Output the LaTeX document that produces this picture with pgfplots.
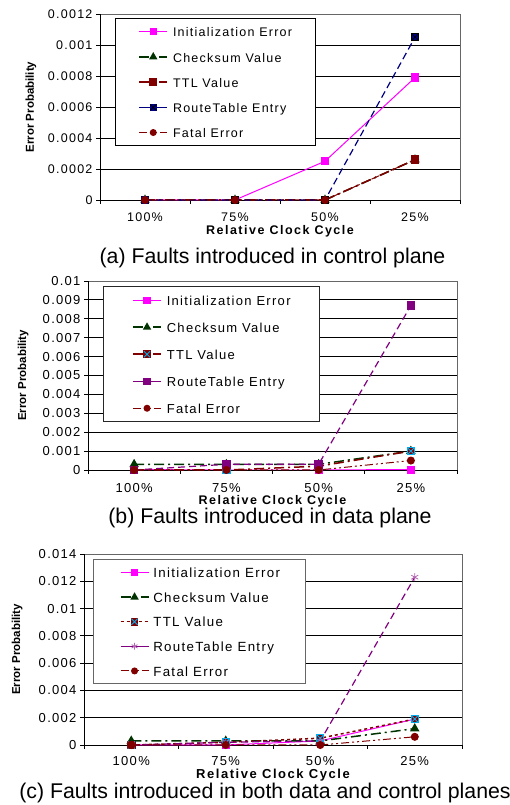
\documentclass[border=0pt]{standalone}
\usepackage{fontspec}
\setmainfont{Liberation Sans}
\newfontfamily\xlfont[LetterSpace=10]{Liberation Sans}
\newfontfamily\xlbfont[LetterSpace=12]{Liberation Sans}
\usepackage{pgfplots}
\pgfplotsset{compat=1.18}

\definecolor{initc}{HTML}{FF00FF}
\definecolor{chkc}{HTML}{003300}
\definecolor{ttlc}{HTML}{800000}
\definecolor{rtnavy}{HTML}{000080}
\definecolor{rtpurp}{HTML}{800080}
\definecolor{fatc}{HTML}{800000}

% square with a cross: cyan cross / dark cross
\pgfdeclareplotmark{sqxc}{%
  \pgfpathrectangle{\pgfqpoint{-\pgfplotmarksize}{-\pgfplotmarksize}}{\pgfqpoint{2\pgfplotmarksize}{2\pgfplotmarksize}}%
  \pgfusepathqfillstroke
  \pgfsetstrokecolor{cyan}\pgfsetlinewidth{0.9pt}%
  \pgfpathmoveto{\pgfqpoint{-\pgfplotmarksize}{-\pgfplotmarksize}}%
  \pgfpathlineto{\pgfqpoint{\pgfplotmarksize}{\pgfplotmarksize}}%
  \pgfpathmoveto{\pgfqpoint{-\pgfplotmarksize}{\pgfplotmarksize}}%
  \pgfpathlineto{\pgfqpoint{\pgfplotmarksize}{-\pgfplotmarksize}}%
  \pgfusepathqstroke}
\pgfdeclareplotmark{sqxk}{%
  \pgfpathrectangle{\pgfqpoint{-\pgfplotmarksize}{-\pgfplotmarksize}}{\pgfqpoint{2\pgfplotmarksize}{2\pgfplotmarksize}}%
  \pgfusepathqfillstroke
  \pgfsetstrokecolor{black}\pgfsetlinewidth{0.7pt}%
  \pgfpathmoveto{\pgfqpoint{-\pgfplotmarksize}{-\pgfplotmarksize}}%
  \pgfpathlineto{\pgfqpoint{\pgfplotmarksize}{\pgfplotmarksize}}%
  \pgfpathmoveto{\pgfqpoint{-\pgfplotmarksize}{\pgfplotmarksize}}%
  \pgfpathlineto{\pgfqpoint{\pgfplotmarksize}{-\pgfplotmarksize}}%
  \pgfusepathqstroke}

\pgfplotsset{
  panel/.style={
    scale only axis, anchor=south west, clip=false,
    xmin=-0.5, xmax=3.5, ymin=0,
    scaled y ticks=false,
    xtick={0,1,2,3}, xticklabels={100\%,75\%,50\%,25\%},
    xtick style={draw=none},
    extra x ticks={-0.5,0.5,1.5,2.5,3.5}, extra x tick labels={},
    extra x tick style={xtick style={draw=black, line width=0.8pt}},
    tick pos=left, tick align=outside, major tick length=4pt,
    ytick style={black, line width=0.8pt},
    ymajorgrids, grid style={black, line width=0.8pt},
    axis line style={draw=gray!80!black, line width=0.8pt},
    legend cell align=left,
    legend image code/.code={\draw[mark repeat=2,mark phase=2,#1,every mark/.append style={scale=0.85}] plot coordinates {(0pt,0pt) (14pt,0pt) (28pt,0pt)};},
    ylabel={Error Probability},
    xlabel={Relative Clock Cycle},
  },
  init/.style={color=initc, line width=1pt, mark=square*, mark size=3.6pt, mark options={solid}},
  chk/.style={color=chkc, line width=1.5pt, dash pattern=on 10pt off 4pt on 2pt off 4pt, mark=triangle*, mark size=4pt, mark options={solid}},
  fat/.style={color=fatc, line width=1pt, dash pattern=on 8pt off 3pt on 2pt off 3pt on 2pt off 3pt, mark=*, mark size=3.5pt, mark options={solid}},
}

\begin{document}
\begin{tikzpicture}
\path[use as bounding box] (0pt,0pt) rectangle (510pt,805pt);

% ---------------- (a) control plane
\begin{axis}[panel, at={(100pt,605pt)}, width=360pt, height=186pt,
  ymax=0.0012,
  ytick={0,0.0002,0.0004,0.0006,0.0008,0.001,0.0012},
  yticklabels={0,0.0002,0.0004,0.0006,0.0008,0.001,0.0012},
  tick label style={font=\xlfont\fontsize{12.5}{14}\selectfont},
  xticklabel style={yshift=-5pt},
  xlabel style={font=\xlbfont\bfseries\fontsize{12.5}{14}\selectfont, at={(axis description cs:0.5,-0.166)}, anchor=center, inner sep=0pt},
  ylabel style={font=\bfseries\fontsize{11.5}{13}\selectfont, at={(axis description cs:-0.1917,0.5)}, anchor=center},
  legend style={at={(rel axis cs:0,1)}, anchor=north west, xshift=15pt, yshift=-4pt,
    draw=black, line width=1pt, inner xsep=23pt, inner ysep=7pt, row sep=12.7pt, column sep=5pt,
    font=\xlfont\fontsize{12.5}{14}\selectfont,
    nodes={inner sep=0pt, text height=11.5pt, text depth=1pt}},
]
\draw[black, line width=0.8pt] (rel axis cs:0,0) -- (rel axis cs:0,1);
\draw[black, line width=0.8pt] (rel axis cs:0,0) -- (rel axis cs:1,0);
\addplot[init] coordinates {(0,0) (1,0) (2,0.00025) (3,0.00079)};
\addlegendentry{Initialization Error}
\addplot[chk] coordinates {(0,0) (1,0) (2,0) (3,0.00026)};
\addlegendentry{Checksum Value}
\addplot[color=ttlc, line width=1.5pt, dash pattern=on 10pt off 4pt on 2pt off 4pt, mark=square*, mark size=3.6pt, mark options={solid}] coordinates {(0,0) (1,0) (2,0) (3,0.00026)};
\addlegendentry{TTL Value}
\addplot[color=rtnavy, line width=1.2pt, dash pattern=on 7pt off 4pt, mark=sqxk, mark size=3.6pt, mark options={solid, fill=rtnavy}, legend image post style={solid}] coordinates {(0,0) (1,0) (2,0) (3,0.00105)};
\addlegendentry{RouteTable Entry}
\addplot[fat] coordinates {(0,0) (1,0) (2,0) (3,0.00026)};
\addlegendentry{Fatal Error}
\end{axis}
\node[font=\fontsize{21.3}{24}\selectfont, inner sep=0pt] at (272.5pt,547pt) {(a) Faults introduced in control plane};

% ---------------- (b) data plane
\begin{axis}[panel, at={(88pt,335pt)}, width=369pt, height=189pt,
  ymax=0.01,
  ytick={0,0.001,0.002,0.003,0.004,0.005,0.006,0.007,0.008,0.009,0.01},
  yticklabels={0,0.001,0.002,0.003,0.004,0.005,0.006,0.007,0.008,0.009,0.01},
  tick label style={font=\xlfont\fontsize{13}{15}\selectfont},
  xticklabel style={yshift=-6pt},
  xlabel style={font=\xlbfont\bfseries\fontsize{12.5}{14}\selectfont, at={(axis description cs:0.5,-0.164)}, anchor=center, inner sep=0pt},
  ylabel style={font=\bfseries\fontsize{11.5}{13}\selectfont, at={(axis description cs:-0.176,0.5)}, anchor=center},
  legend style={at={(rel axis cs:0,1)}, anchor=north west, xshift=15.3pt, yshift=-5pt,
    draw=black!85, line width=1pt, inner xsep=28.5pt, inner ysep=7.5pt, row sep=14.5pt, column sep=5pt,
    font=\xlfont\fontsize{13}{15}\selectfont,
    nodes={inner sep=0pt, text height=11.5pt, text depth=1pt}},
]
\draw[black, line width=0.8pt] (rel axis cs:0,0) -- (rel axis cs:0,1);
\draw[black, line width=0.8pt] (rel axis cs:0,0) -- (rel axis cs:1,0);
\addplot[init] coordinates {(0,0) (1,0) (2,0) (3,0)};
\addlegendentry{Initialization Error}
\addplot[chk] coordinates {(0,0.0003) (1,0.0003) (2,0.0003) (3,0.001)};
\addlegendentry{Checksum Value}
\addplot[color=ttlc, line width=1.5pt, dash pattern=on 10pt off 4pt on 2pt off 4pt, mark=sqxc, mark size=3.6pt, mark options={solid, fill=ttlc}] coordinates {(0,0) (1,0) (2,0.0002) (3,0.001)};
\addlegendentry{TTL Value}
\addplot[color=rtpurp, line width=1.2pt, dash pattern=on 7pt off 4pt, mark=square*, mark size=3.6pt, mark options={solid}, legend image post style={solid}] coordinates {(0,0) (1,0.0003) (2,0.0003) (3,0.0087)};
\addlegendentry{RouteTable Entry}
\addplot[fat] coordinates {(0,0) (1,0) (2,0) (3,0.0005)};
\addlegendentry{Fatal Error}
\end{axis}
\node[font=\fontsize{21.3}{24}\selectfont, inner sep=0pt] at (270pt,287pt) {(b) Faults introduced in data plane};

% ---------------- (c) both planes
\begin{axis}[panel, at={(84pt,60pt)}, width=378pt, height=191pt,
  ymax=0.014,
  ytick={0,0.002,0.004,0.006,0.008,0.01,0.012,0.014},
  yticklabels={0,0.002,0.004,0.006,0.008,0.01,0.012,0.014},
  tick label style={font=\xlfont\fontsize{13}{15}\selectfont},
  xticklabel style={yshift=-4pt},
  xlabel style={font=\xlbfont\bfseries\fontsize{13}{15}\selectfont, at={(axis description cs:0.5,-0.16)}, anchor=center, inner sep=0pt},
  ylabel style={font=\bfseries\fontsize{11.5}{13}\selectfont, at={(axis description cs:-0.177,0.5)}, anchor=center},
  legend style={at={(rel axis cs:0,1)}, anchor=north west, xshift=9.3pt, yshift=-5.3pt,
    draw=gray!80!black, line width=1pt, inner xsep=26pt, inner ysep=6.5pt, row sep=12.1pt, column sep=4pt,
    font=\xlfont\fontsize{13.3}{15}\selectfont,
    nodes={inner sep=0pt, text height=11.5pt, text depth=1pt}},
]
\draw[black, line width=0.8pt] (rel axis cs:0,0) -- (rel axis cs:0,1);
\draw[black, line width=0.8pt] (rel axis cs:0,0) -- (rel axis cs:1,0);
\addplot[init] coordinates {(0,0) (1,0) (2,0.0003) (3,0.0019)};
\addlegendentry{Initialization Error}
\addplot[chk] coordinates {(0,0.0003) (1,0.0003) (2,0.0003) (3,0.0012)};
\addlegendentry{Checksum Value}
\addplot[color=ttlc, line width=1.5pt, dash pattern=on 3pt off 3pt, mark=sqxc, mark size=3.6pt, mark options={solid, fill=ttlc}] coordinates {(0,0) (1,0.0002) (2,0.0005) (3,0.0019)};
\addlegendentry{TTL Value}
\addplot[color=rtpurp, line width=1.2pt, dash pattern=on 7pt off 4pt, mark=asterisk, mark size=4pt, mark options={solid, draw=rtpurp!60, line width=0.8pt}, legend image post style={solid}] coordinates {(0,0) (1,0.0002) (2,0.0003) (3,0.0123)};
\addlegendentry{RouteTable Entry}
\addplot[fat] coordinates {(0,0) (1,0) (2,0) (3,0.0006)};
\addlegendentry{Fatal Error}
\end{axis}
\node[font=\fontsize{21.3}{24}\selectfont, inner sep=0pt] at (265pt,12pt) {(c) Faults introduced in both data and control planes};
\end{tikzpicture}
\end{document}
